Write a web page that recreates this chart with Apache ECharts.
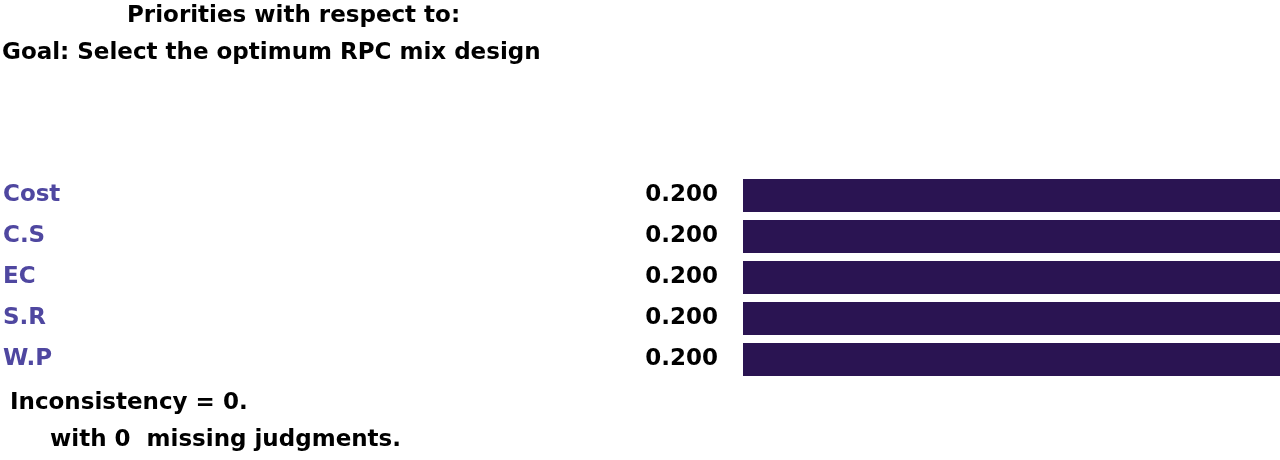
<!DOCTYPE html>
<html><head><meta charset="utf-8">
<script src="https://cdn.jsdelivr.net/npm/echarts@6/dist/echarts.min.js"></script>
<style>html,body{margin:0;padding:0;background:#fff}#c{width:1280px;height:460px}</style>
</head><body><div id="c"></div>
<script>
const categories = ['Cost','C.S','EC','S.R','W.P'];
const values = [0.200,0.200,0.200,0.200,0.200];
const titleLine1 = 'Priorities with respect to:';
const titleLine2 = 'Goal: Select the optimum RPC mix design';
const footer1 = 'Inconsistency = 0.';
const footer2 = 'with 0  missing judgments.';
const F = 'DejaVu Sans';
const chart = echarts.init(document.getElementById('c'));
chart.setOption({
  backgroundColor:'#fff',
  animation:false,
  grid:{left:742,right:0,top:175,height:205},
  xAxis:{type:'value',min:0,max:0.2,show:false},
  yAxis:{type:'category',data:categories,inverse:true,
    axisLine:{show:false},axisTick:{show:false},
    axisLabel:{margin:740,align:'left',color:'#4f47a0',fontFamily:F,fontWeight:'bold',fontSize:23}},
  series:[{type:'bar',data:values,barWidth:33,itemStyle:{color:'#2a1452'},
    label:{show:true,position:'left',distance:25,color:'#000',fontFamily:F,fontWeight:'bold',fontSize:23,
      formatter:p=>p.value.toFixed(3)}}],
  graphic:[
    {type:'text',left:127,top:5,style:{text:titleLine1,fontFamily:F,fontWeight:'bold',fontSize:23,fill:'#000'}},
    {type:'text',left:2,top:42,style:{text:titleLine2,fontFamily:F,fontWeight:'bold',fontSize:23,fill:'#000'}},
    {type:'text',left:10,top:392,style:{text:footer1,fontFamily:F,fontWeight:'bold',fontSize:23,fill:'#000'}},
    {type:'text',left:50,top:429,style:{text:footer2,fontFamily:F,fontWeight:'bold',fontSize:23,fill:'#000'}}
  ]
});
</script></body></html>
